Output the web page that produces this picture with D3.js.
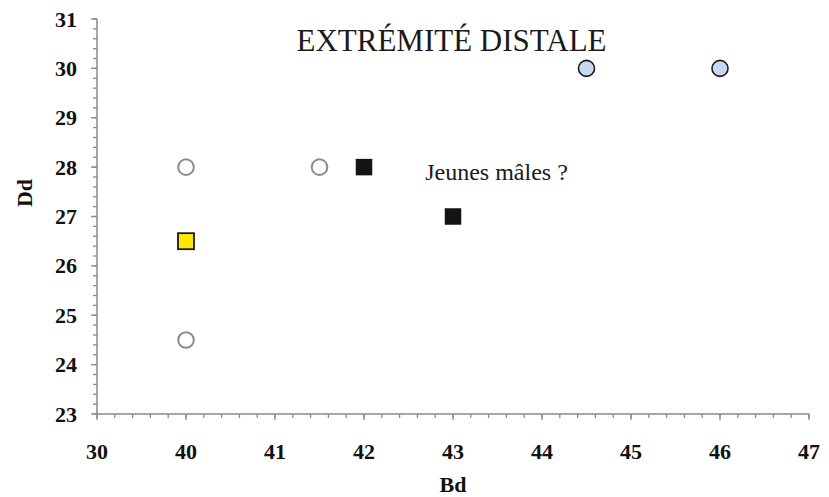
<!DOCTYPE html>
<html><head><meta charset="utf-8">
<script src="https://cdn.jsdelivr.net/npm/d3@7"></script>
<style>body{margin:0;background:#fff}svg{display:block}</style>
</head><body>
<script>
// Data
const openCircles = [[40,28],[41.5,28],[40,24.5]];
const yellowSquares = [[40,26.5]];
const blackSquares = [[42,28],[43,27]];
const blueCircles = [[44.5,30],[46,30]];
const xTickValues = [39,40,41,42,43,44,45,46,47];
const xTickLabels = ["30","40","41","42","43","44","45","46","47"];
const yTickValues = [23,24,25,26,27,28,29,30,31];
const title = "EXTRÉMITÉ DISTALE";
const annotation = "Jeunes mâles ?";

const W = 829, H = 497;
const svg = d3.select("body").append("svg").attr("width", W).attr("height", H);
const x = d3.scaleLinear().domain([39,47]).range([97,809]);
const y = d3.scaleLinear().domain([23,31]).range([414,19]);
const axisColor = "#8a8a8a";
const font = "'Liberation Serif','Times New Roman',serif";

// minor ticks
const xMinor = d3.range(39,47.0001,0.2);
const yMinor = d3.range(23,31.0001,0.2);
const g = svg.append("g");
g.selectAll(".xm").data(xMinor).join("line")
  .attr("x1",d=>x(d)).attr("x2",d=>x(d)).attr("y1",y(23)).attr("y2",y(23)+4)
  .attr("stroke",axisColor).attr("stroke-width",1.3);
g.selectAll(".xM").data(xTickValues).join("line")
  .attr("x1",d=>x(d)).attr("x2",d=>x(d)).attr("y1",y(23)).attr("y2",y(23)+6)
  .attr("stroke",axisColor).attr("stroke-width",1.3);
g.selectAll(".ym").data(yMinor).join("line")
  .attr("x1",x(39)-4).attr("x2",x(39)).attr("y1",d=>y(d)).attr("y2",d=>y(d))
  .attr("stroke",axisColor).attr("stroke-width",1.3);
g.selectAll(".yM").data(yTickValues).join("line")
  .attr("x1",x(39)-6).attr("x2",x(39)).attr("y1",d=>y(d)).attr("y2",d=>y(d))
  .attr("stroke",axisColor).attr("stroke-width",1.3);
g.append("line").attr("x1",x(39)).attr("x2",x(47)).attr("y1",y(23)).attr("y2",y(23))
  .attr("stroke",axisColor).attr("stroke-width",1.5);
g.append("line").attr("x1",x(39)).attr("x2",x(39)).attr("y1",y(23)).attr("y2",y(31))
  .attr("stroke",axisColor).attr("stroke-width",1.5);

// tick labels
svg.selectAll(".xl").data(xTickValues).join("text")
  .attr("x",d=>x(d)).attr("y",459).attr("text-anchor","middle")
  .attr("font-family",font).attr("font-weight","bold").attr("font-size",22)
  .attr("fill","#111").text((d,i)=>xTickLabels[i]);
svg.selectAll(".yl").data(yTickValues).join("text")
  .attr("x",77).attr("y",d=>y(d)+7.5).attr("text-anchor","end")
  .attr("font-family",font).attr("font-weight","bold").attr("font-size",22)
  .attr("fill","#111").text(d=>d);

// axis titles
svg.append("text").attr("x",453).attr("y",492).attr("text-anchor","middle")
  .attr("font-family",font).attr("font-weight","bold").attr("font-size",22)
  .attr("fill","#111").text("Bd");
svg.append("text").attr("transform","translate(31.5,193) rotate(-90)").attr("text-anchor","middle")
  .attr("font-family",font).attr("font-weight","bold").attr("font-size",22)
  .attr("fill","#111").text("Dd");

// title & annotation
svg.append("text").attr("x",451.5).attr("y",51).attr("text-anchor","middle")
  .attr("font-family",font).attr("font-size",31).attr("fill","#1a1a1a").text(title);
svg.append("text").attr("x",496.5).attr("y",180).attr("text-anchor","middle")
  .attr("font-family",font).attr("font-size",24).attr("fill","#1a1a1a").text(annotation);

// marks
svg.selectAll(".oc").data(openCircles).join("circle")
  .attr("cx",d=>x(d[0])).attr("cy",d=>y(d[1])).attr("r",7.8)
  .attr("fill","#fff").attr("stroke","#8c8c8c").attr("stroke-width",2);
svg.selectAll(".bc").data(blueCircles).join("circle")
  .attr("cx",d=>x(d[0])).attr("cy",d=>y(d[1])).attr("r",8)
  .attr("fill","#c6d9f0").attr("stroke","#1a1a1a").attr("stroke-width",1.6);
const s = 16.5;
svg.selectAll(".bs").data(blackSquares).join("rect")
  .attr("x",d=>x(d[0])-s/2).attr("y",d=>y(d[1])-s/2).attr("width",s).attr("height",s)
  .attr("fill","#141414");
const ys = 16;
svg.selectAll(".ys").data(yellowSquares).join("rect")
  .attr("x",d=>x(d[0])-ys/2).attr("y",d=>y(d[1])-ys/2).attr("width",ys).attr("height",ys)
  .attr("fill","#ffe800").attr("stroke","#1a1a1a").attr("stroke-width",1.8);
</script>
</body></html>
